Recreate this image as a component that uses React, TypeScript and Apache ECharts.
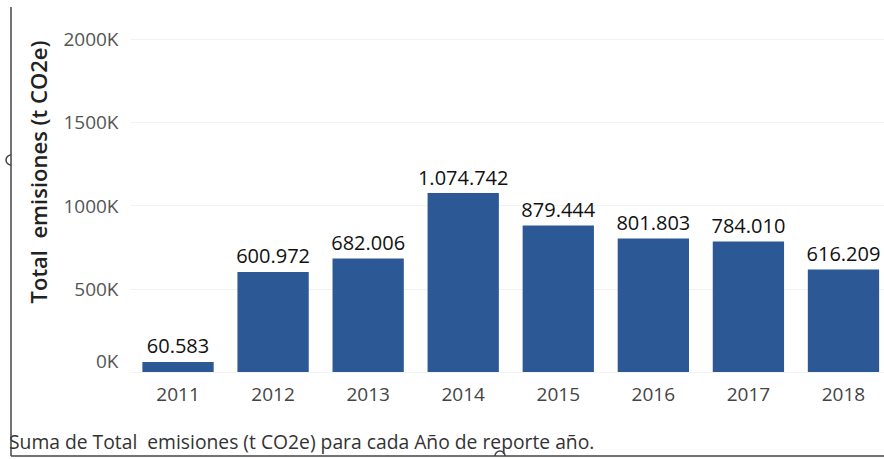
import React, { useEffect, useRef } from "react";
import * as echarts from "echarts";

const years = ["2011", "2012", "2013", "2014", "2015", "2016", "2017", "2018"];
const emissions = [60583, 600972, 682006, 1074742, 879444, 801803, 784010, 616209];
const yTicks = [0, 500000, 1000000, 1500000, 2000000];
const yAxisTitle = "Total  emisiones (t CO2e)";
const caption = "Suma de Total  emisiones (t CO2e) para cada Año de reporte año.";

const fmt = (v: number) => String(v).replace(/\B(?=(\d{3})+(?!\d))/g, ".");

export default function App() {
  const ref = useRef<HTMLDivElement>(null);
  useEffect(() => {
    if (!ref.current) return;
    const chart = echarts.init(ref.current, undefined, { renderer: "svg" });
    const font = "'Open Sans', 'Noto Sans', sans-serif";
    chart.setOption({
      animation: false,
      backgroundColor: "#ffffff",
      grid: { left: 130.5, right: 0, top: 39, bottom: 87, containLabel: false },
      xAxis: {
        type: "category",
        data: years,
        axisLine: { show: false },
        axisTick: { show: false },
        axisLabel: { color: "#444", fontSize: 19, fontFamily: font, margin: 12 },
      },
      yAxis: {
        type: "value",
        min: yTicks[0],
        max: yTicks[yTicks.length - 1],
        interval: 500000,
        axisLine: { show: false },
        axisTick: { show: false },
        splitLine: { lineStyle: { color: "#f2f2f2", width: 1 } },
        axisLabel: {
          color: "#555",
          fontSize: 19,
          fontFamily: font,
          margin: 12,
          formatter: (v: number) => (v === 0 ? "{z|0K}" : v / 1000 + "K"),
          rich: {
            z: { color: "#555", fontSize: 19, fontFamily: font, padding: [0, 0, 22, 0] },
          },
        },
      },
      series: [
        {
          type: "bar",
          data: emissions,
          barCategoryGap: "25%",
          itemStyle: { color: "#2c5896" },
          label: {
            show: true,
            position: "top",
            distance: 6,
            color: "#111",
            fontSize: 20,
            fontFamily: font,
            formatter: (p: any) => fmt(p.value),
          },
        },
      ],
      graphic: [
        {
          type: "text",
          x: 38,
          y: 172,
          rotation: Math.PI / 2,
          style: {
            text: yAxisTitle,
            fill: "#222",
            font: `600 22px ${font}`,
            textAlign: "center",
            textVerticalAlign: "middle",
          },
        },
        {
          type: "text",
          x: 9,
          y: 441,
          style: {
            text: caption,
            fill: "#333",
            font: `19.3px ${font}`,
            textAlign: "left",
            textVerticalAlign: "middle",
          },
        },
        {
          type: "line",
          shape: { x1: 11, y1: 7, x2: 11, y2: 456 },
          style: { stroke: "#444", lineWidth: 1.5 },
        },
        {
          type: "line",
          shape: { x1: 11, y1: 456, x2: 884, y2: 456 },
          style: { stroke: "#444", lineWidth: 1.5 },
        },
        {
          type: "arc",
          shape: { cx: 11, cy: 160, r: 5, startAngle: Math.PI / 2, endAngle: (3 * Math.PI) / 2 },
          style: { stroke: "#444", lineWidth: 1.5, fill: "none" },
        },
        {
          type: "arc",
          shape: { cx: 500, cy: 456, r: 5, startAngle: Math.PI, endAngle: 2 * Math.PI },
          style: { stroke: "#444", lineWidth: 1.5, fill: "none" },
        },
      ],
    });
    return () => chart.dispose();
  }, []);
  return (
    <div style={{ position: "fixed", left: 0, top: 0, width: 884, height: 459, overflow: "hidden" }}>
      <div ref={ref} style={{ width: 891, height: 459 }} />
    </div>
  );
}
